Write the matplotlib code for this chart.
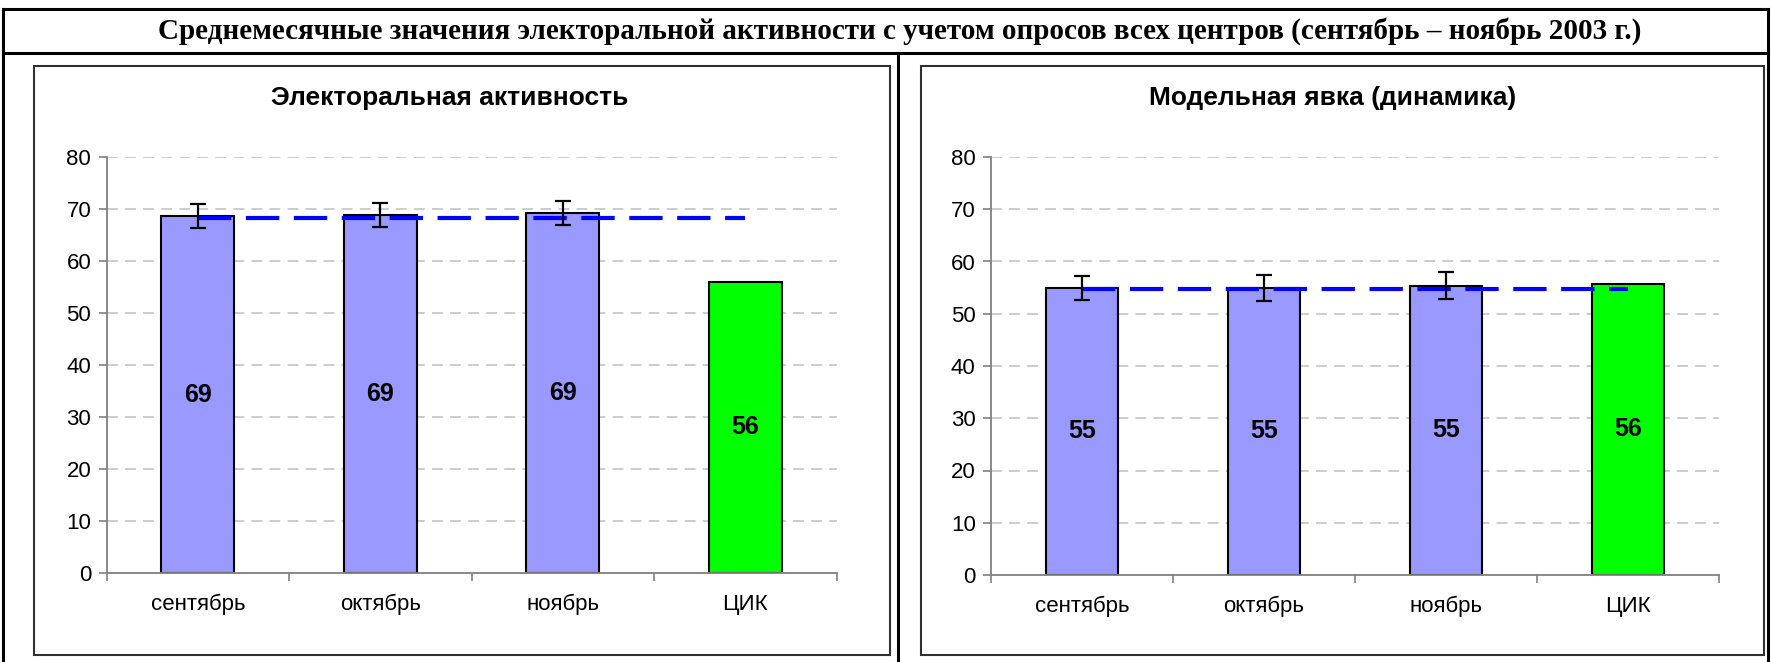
import matplotlib.pyplot as plt
from matplotlib.lines import Line2D
from matplotlib.patches import Rectangle

# data
categories = ['сентябрь', 'октябрь', 'ноябрь', 'ЦИК']

activity_values = [68.6, 68.9, 69.3, 56.0]
activity_errors = [2.3, 2.3, 2.3, 0.0]
activity_mean = 68.3

turnout_values = [55.0, 55.0, 55.4, 55.7]
turnout_errors = [2.3, 2.5, 2.5, 0.0]
turnout_mean = 54.7

bar_colors = ['#9999ff', '#9999ff', '#9999ff', '#00ff00']

main_title = ('Среднемесячные значения электоральной активности с учетом опросов '
              'всех центров (сентябрь – ноябрь 2003 г.)')
left_title = 'Электоральная активность'
right_title = 'Модельная явка (динамика)'

W, H = 1771, 662
plt.rcParams['font.family'] = ['Liberation Sans', 'DejaVu Sans']


def fx(px):
    return px / W


def fy(py):
    return 1 - py / H


def draw_panel(ax, values, errors, mean_value):
    x = list(range(len(categories)))
    ax.bar(x, values, width=0.4, color=bar_colors, edgecolor='black',
           linewidth=1.5, zorder=2)
    ax.plot(x, [mean_value] * len(x), color='#0000ff', linewidth=3,
            dashes=(8, 3.5), zorder=3)
    n = len(categories) - 1
    ax.errorbar(x[:n], values[:n], yerr=errors[:n], fmt='none', ecolor='black',
                elinewidth=1.6, capsize=6, capthick=1.6, zorder=4)
    for xi, v in zip(x, values):
        ax.text(xi, v / 2, f'{v:.0f}', ha='center', va='center',
                fontsize=18, fontweight='bold', zorder=5)

    ax.set_xlim(-0.5, len(categories) - 0.5)
    ax.set_ylim(0, 80)
    ax.set_yticks(range(0, 81, 10))
    ax.set_xticks(x)
    ax.set_xticklabels(categories, fontsize=16)
    ax.tick_params(axis='x', length=0, pad=15)
    ax.set_xticks([i - 0.5 for i in range(len(categories) + 1)], minor=True)
    ax.tick_params(axis='x', which='minor', length=6, color='#808080', width=1.2)
    ax.tick_params(axis='y', labelsize=16, length=6, color='#808080', width=1.2, pad=5)
    for y in range(10, 81, 10):
        ax.axhline(y, color='#c8c8c8', linewidth=1.3, dashes=(6, 4), zorder=1)
    for side in ['top', 'right']:
        ax.spines[side].set_visible(False)
    for side in ['left', 'bottom']:
        ax.spines[side].set_color('#808080')
        ax.spines[side].set_linewidth(1.3)


fig = plt.figure(figsize=(W / 100, H / 100), dpi=100)

# outer table lines
line_kw = dict(transform=fig.transFigure, color='black', linewidth=2.2)
fig.add_artist(Line2D([fx(3), fx(1768)], [fy(9), fy(9)], **line_kw))
fig.add_artist(Line2D([fx(3), fx(1768)], [fy(53), fy(53)], **line_kw))
fig.add_artist(Line2D([fx(3), fx(3)], [fy(9), 0], **line_kw))
fig.add_artist(Line2D([fx(1768), fx(1768)], [fy(9), 0], **line_kw))
fig.add_artist(Line2D([fx(898), fx(898)], [fy(53), 0], **line_kw))

fig.text(fx(900), fy(31), main_title, ha='center', va='center', fontsize=21,
         fontweight='bold', family=['Liberation Serif', 'DejaVu Serif'])

# chart frames
for x0, x1 in [(34, 890), (921, 1764)]:
    fig.add_artist(Rectangle((fx(x0), fy(655)), fx(x1 - x0), (655 - 66) / H,
                             transform=fig.transFigure, fill=False,
                             edgecolor='#303030', linewidth=1.5))

fig.text(fx(450), fy(98), left_title, ha='center', va='center', fontsize=19,
         fontweight='bold')
fig.text(fx(1333), fy(98), right_title, ha='center', va='center', fontsize=19,
         fontweight='bold')

ax1 = fig.add_axes([fx(106.5), fy(573), fx(730), 416 / H])
draw_panel(ax1, activity_values, activity_errors, activity_mean)

ax2 = fig.add_axes([fx(991), fy(575), fx(728), 418 / H])
draw_panel(ax2, turnout_values, turnout_errors, turnout_mean)

fig.savefig('out.png', dpi=100)
